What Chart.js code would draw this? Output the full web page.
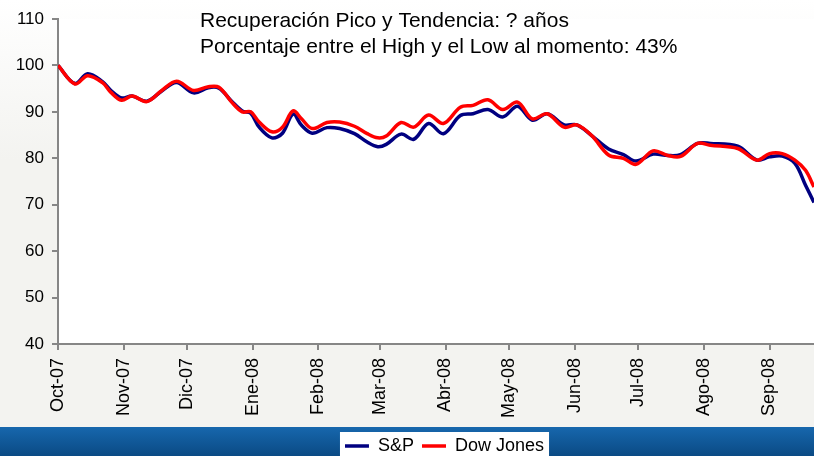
<!DOCTYPE html>
<html>
<head>
<meta charset="utf-8">
<script src="https://cdn.jsdelivr.net/npm/chart.js@4.4.1/dist/chart.umd.min.js"></script>
<style>
  html, body { margin: 0; padding: 0; background: #fff; }
  #wrap { width: 814px; height: 456px; }
</style>
</head>
<body>
<div id="wrap"><canvas id="chart" width="814" height="456"></canvas></div>
<script>
// days since 9-Oct-2007 (first point of the series = 100)
var days = [0, 8, 14, 21, 25, 30, 35, 42, 49, 56, 64, 71, 76, 82, 87, 91, 95, 101, 106, 111,
            115, 120, 127, 133, 140, 146, 151, 155, 162, 168, 175, 182, 190, 196, 203, 210, 217, 224, 231, 239,
            245, 252, 260, 267, 273, 281, 288, 294, 302, 308, 321, 330, 336, 342, 348, 353, 357];
var sp = [100, 96.1, 98.2, 96.5, 94.6, 93.0, 93.4, 92.3, 94.5, 96.3, 94.1, 95.2, 95.1, 92.3, 90.2, 89.7, 86.7, 84.4, 85.4, 89.5,
          87.1, 85.4, 86.6, 86.4, 85.3, 83.5, 82.5, 83.0, 85.2, 84.1, 87.5, 85.3, 89.2, 89.6, 90.5, 88.9, 91.2, 88.2, 89.6, 87.2,
          87.2, 84.9, 82.0, 80.8, 79.4, 80.9, 80.6, 80.8, 83.2, 83.2, 82.6, 79.6, 80.3, 80.5, 78.9, 74.2, 70.5];
var dow = [100, 96.0, 97.8, 96.3, 94.2, 92.5, 93.4, 92.2, 94.6, 96.6, 94.6, 95.4, 95.3, 92.1, 90.0, 90.0, 87.8, 85.7, 86.7, 90.2,
           88.5, 86.4, 87.7, 87.8, 86.9, 85.3, 84.4, 84.8, 87.7, 86.7, 89.3, 87.5, 91.0, 91.4, 92.6, 90.5, 92.1, 88.5, 89.6, 86.7,
           87.2, 84.9, 80.7, 80.0, 78.7, 81.6, 80.6, 80.4, 83.2, 82.8, 82.1, 79.6, 81.0, 81.0, 79.6, 77.4, 73.8];

var tickDays = [0, 31, 61, 92, 123, 152, 183, 213, 244, 274, 305, 336];
var tickLabels = ['Oct-07', 'Nov-07', 'Dic-07', 'Ene-08', 'Feb-08', 'Mar-08',
                  'Abr-08', 'May-08', 'Jun-08', 'Jul-08', 'Ago-08', 'Sep-08'];
var notes = ['Recuperación Pico y Tendencia: ? años',
             'Porcentaje entre el High y el Low al momento: 43%'];

var FONT = '"Liberation Sans", Arial, sans-serif';
var AXIS = '#868686';

function points(vals) {
  return vals.map(function(v, i) { return {x: days[i], y: v}; });
}

var backdrop = {
  id: 'backdrop',
  afterLayout: function(chart) {
    // the legend sits a little right of the plot centre
    chart.legend.left += 17;
  },
  beforeDraw: function(chart) {
    var ctx = chart.ctx, a = chart.chartArea, w = chart.width, h = chart.height;
    var lg = chart.legend;
    ctx.save();
    var g = ctx.createLinearGradient(0, 0, 0, 160);
    g.addColorStop(0, '#ffffff');
    g.addColorStop(1, '#f3f3f0');
    ctx.fillStyle = g;
    ctx.fillRect(0, 0, w, h);
    ctx.fillStyle = '#ffffff';
    ctx.fillRect(a.left, a.top, a.right - a.left, a.bottom - a.top);

    // blue band under the chart
    var bandTop = lg.top - 2;
    var b = ctx.createLinearGradient(0, bandTop, 0, h);
    b.addColorStop(0, '#1767ad');
    b.addColorStop(1, '#0a4a84');
    ctx.fillStyle = b;
    ctx.fillRect(0, bandTop, w, h - bandTop);

    // white box behind the legend items
    var hb = lg.legendHitBoxes;
    if (hb && hb.length) {
      var l = Math.min.apply(null, hb.map(function(o) { return o.left; }));
      var r = Math.max.apply(null, hb.map(function(o) { return o.left + o.width; }));
      ctx.fillStyle = '#ffffff';
      ctx.fillRect(l - 5, lg.top + 3, r - l + 10, h - lg.top - 3);
    }
    ctx.restore();
  },
  afterDraw: function(chart) {
    var ctx = chart.ctx;
    ctx.save();
    ctx.fillStyle = '#000';
    ctx.font = '21px ' + FONT;
    ctx.textBaseline = 'alphabetic';
    ctx.fillText(notes[0], 200, 27);
    ctx.fillText(notes[1], 200, 53);
    ctx.restore();
  }
};

var ctx = document.getElementById('chart').getContext('2d');
var chart = new Chart(ctx, {
  type: 'line',
  data: {
    datasets: [{
      label: 'S&P',
      data: points(sp),
      borderColor: '#000080',
      backgroundColor: '#000080',
      borderWidth: 3.5,
      pointRadius: 0,
      pointStyle: 'line',
      tension: 0.35,
      order: 1
    }, {
      label: 'Dow Jones',
      data: points(dow),
      borderColor: '#ff0000',
      backgroundColor: '#ff0000',
      borderWidth: 3.5,
      pointRadius: 0,
      pointStyle: 'line',
      tension: 0.35,
      order: 0
    }]
  },
  options: {
    responsive: false,
    animation: false,
    devicePixelRatio: 1,
    layout: { padding: { top: 19, right: 0, bottom: -9, left: 0 } },
    plugins: {
      tooltip: { enabled: false },
      legend: {
        position: 'bottom',
        fullSize: false,
        labels: {
          usePointStyle: true,
          pointStyleWidth: 24,
          padding: 8,
          color: '#000',
          font: { family: FONT, size: 18 },
          sort: function(a, b) { return a.datasetIndex - b.datasetIndex; }
        }
      }
    },
    scales: {
      x: {
        type: 'linear',
        min: 0,
        max: 357,
        afterBuildTicks: function(axis) {
          axis.ticks = tickDays.map(function(d) { return {value: d}; });
        },
        afterFit: function(axis) { axis.height = 85; },
        border: { color: AXIS, width: 2 },
        grid: { drawOnChartArea: false, color: AXIS, lineWidth: 2, tickLength: 6 },
        ticks: {
          autoSkip: false,
          minRotation: 90,
          maxRotation: 90,
          padding: 8,
          color: '#000',
          font: { family: FONT, size: 18 },
          callback: function(value) {
            var i = tickDays.indexOf(value);
            return i >= 0 ? tickLabels[i] : '';
          }
        }
      },
      y: {
        min: 40,
        max: 110,
        afterFit: function(axis) { axis.width = 58; },
        border: { color: AXIS, width: 2 },
        grid: { drawOnChartArea: false, color: AXIS, lineWidth: 2, tickLength: 6 },
        ticks: {
          stepSize: 10,
          padding: 8,
          color: '#000',
          font: { family: FONT, size: 17 }
        }
      }
    }
  },
  plugins: [backdrop]
});
</script>
</body>
</html>
